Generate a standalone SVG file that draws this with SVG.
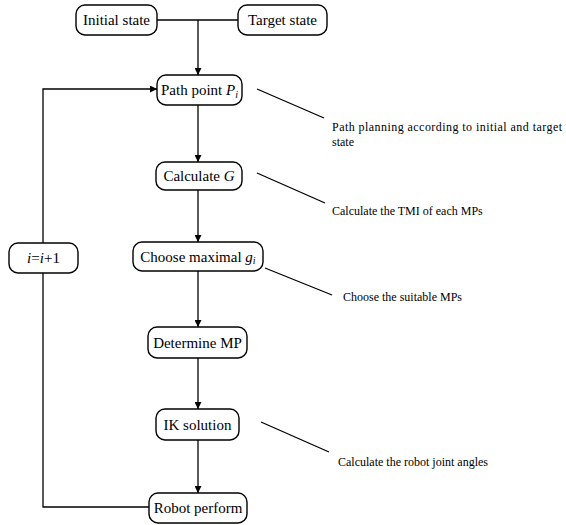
<svg xmlns="http://www.w3.org/2000/svg" width="566" height="525" viewBox="0 0 566 525" font-family="'Liberation Serif', 'Times New Roman', serif">
<defs>
<marker id="arr" viewBox="0 0 10 10" refX="10" refY="5" markerWidth="7" markerHeight="7" orient="auto" markerUnits="userSpaceOnUse">
<path d="M0,0 L10,5 L0,10 z" fill="#000"/>
</marker>
<style>
.box{fill:#fff;stroke:#000;stroke-width:1.4}
.c{fill:none;stroke:#000;stroke-width:1.3}
</style>
</defs>
<rect width="566" height="525" fill="#fff"/>
<g id="connectors">
<path class="c" d="M157,20 H238"/>
<path class="c" d="M198,20 V75" marker-end="url(#arr)"/>
<path class="c" d="M198,105 V162" marker-end="url(#arr)"/>
<path class="c" d="M198,190 V242" marker-end="url(#arr)"/>
<path class="c" d="M198,271 V327" marker-end="url(#arr)"/>
<path class="c" d="M198,358 V409" marker-end="url(#arr)"/>
<path class="c" d="M198,440 V493" marker-end="url(#arr)"/>
<path class="c" d="M149,507 H43 V89 H157" marker-end="url(#arr)"/>
<path class="c" d="M257,89 L324,118"/>
<path class="c" d="M257,173 L325,203"/>
<path class="c" d="M265,268 L332,295"/>
<path class="c" d="M261,422 L329,452"/>
</g>
<g id="initial" font-size="15" text-anchor="middle">
<rect class="box" x="76" y="5" width="81" height="30" rx="9"/>
<text x="116.5" y="25">Initial state</text>
</g>
<g id="target" font-size="15" text-anchor="middle">
<rect class="box" x="238" y="5" width="89" height="30" rx="9"/>
<text x="282.5" y="25">Target state</text>
</g>
<g id="pathpoint" font-size="15" text-anchor="middle">
<rect class="box" x="157" y="75" width="85" height="30" rx="9"/>
<text x="199.5" y="95">Path point <tspan font-style="italic">P</tspan><tspan font-style="italic" font-size="10" dy="3">i</tspan></text>
</g>
<g id="calcG" font-size="15" text-anchor="middle">
<rect class="box" x="156" y="162" width="86" height="28" rx="9"/>
<text x="199" y="181">Calculate <tspan font-style="italic">G</tspan></text>
</g>
<g id="choose" font-size="15" text-anchor="middle">
<rect class="box" x="133" y="242" width="130" height="29" rx="9"/>
<text x="198" y="262">Choose maximal <tspan font-style="italic">g</tspan><tspan font-style="italic" font-size="10" dy="2">i</tspan></text>
</g>
<g id="determine" font-size="15" text-anchor="middle">
<rect class="box" x="148" y="327" width="99" height="31" rx="9"/>
<text x="197.5" y="348">Determine MP</text>
</g>
<g id="ik" font-size="15" text-anchor="middle">
<rect class="box" x="156" y="409" width="83" height="31" rx="9"/>
<text x="197.5" y="430">IK solution</text>
</g>
<g id="robot" font-size="15" text-anchor="middle">
<rect class="box" x="149" y="493" width="98" height="30" rx="9"/>
<text x="198" y="513">Robot perform</text>
</g>
<g id="incr" font-size="15" text-anchor="middle">
<rect class="box" x="9" y="243" width="69" height="30" rx="9"/>
<text x="43.5" y="263"><tspan font-style="italic">i</tspan>=<tspan font-style="italic">i</tspan>+1</text>
</g>
<g id="notes" font-size="12">
<text x="332" y="131" textLength="230" lengthAdjust="spacing">Path planning according to initial and target</text>
<text x="332" y="146">state</text>
<text x="332" y="215">Calculate the TMI of each MPs</text>
<text x="343" y="301">Choose the suitable MPs</text>
<text x="338" y="466">Calculate the robot joint angles</text>
</g>
</svg>
